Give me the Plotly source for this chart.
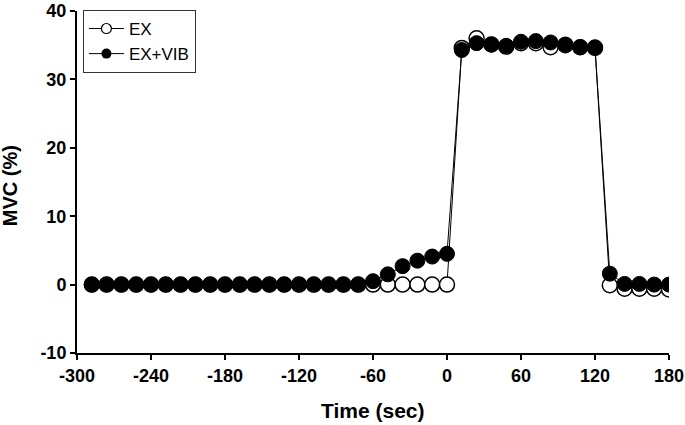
import plotly.graph_objects as go

time_sec = [-288, -276, -264, -252, -240, -228, -216, -204, -192, -180,
            -168, -156, -144, -132, -120, -108, -96, -84, -72, -60,
            -48, -36, -24, -12, 0, 12, 24, 36, 48, 60,
            72, 84, 96, 108, 120, 132, 144, 156, 168, 180]

ex = [0, 0, 0, 0, 0, 0, 0, 0, 0, 0,
      0, 0, 0, 0, 0, 0, 0, 0, 0, 0,
      0, 0, 0, 0, 0, 34.6, 36.0, 35.1, 34.8, 35.3,
      35.3, 34.7, 35.0, 34.7, 34.6, -0.1, -0.6, -0.6, -0.6, -0.7]

ex_vib = [0, 0, 0, 0, 0, 0, 0, 0, 0, 0,
          0, 0, 0, 0, 0, 0, 0, 0, 0, 0.5,
          1.5, 2.7, 3.5, 4.1, 4.5, 34.3, 35.3, 35.1, 34.9, 35.5,
          35.6, 35.4, 35.1, 34.7, 34.7, 1.6, 0.1, 0.1, 0.0, 0.0]

x_ticks = [-300, -240, -180, -120, -60, 0, 60, 120, 180]
y_ticks = [-10, 0, 10, 20, 30, 40]

FONT = "Arial, Liberation Sans, Helvetica, sans-serif"

fig = go.Figure()
fig.add_trace(go.Scatter(
    x=time_sec, y=ex, mode="lines+markers", name="EX", showlegend=False,
    line=dict(color="black", width=1),
    marker=dict(symbol="circle", size=15, color="white",
                line=dict(color="black", width=1.5)),
))
fig.add_trace(go.Scatter(
    x=time_sec, y=ex_vib, mode="lines+markers", name="EX+VIB", showlegend=False,
    line=dict(color="black", width=1),
    marker=dict(symbol="circle", size=15, color="black",
                line=dict(color="black", width=1)),
))
# legend entries with smaller symbols
fig.add_trace(go.Scatter(
    x=[None], y=[None], mode="lines+markers", name="EX",
    line=dict(color="black", width=1),
    marker=dict(symbol="circle", size=10, color="white",
                line=dict(color="black", width=1.2)),
))
fig.add_trace(go.Scatter(
    x=[None], y=[None], mode="lines+markers", name="EX+VIB",
    line=dict(color="black", width=1),
    marker=dict(symbol="circle", size=10, color="black"),
))

fig.update_layout(
    template="none",
    width=685, height=425,
    margin=dict(l=77, r=16, t=11, b=72, autoexpand=False),
    paper_bgcolor="white", plot_bgcolor="white",
    font=dict(family=FONT, color="black"),
    showlegend=True,
    legend=dict(
        x=0.01, y=1.003, xanchor="left", yanchor="top",
        bgcolor="white", bordercolor="#333333", borderwidth=1,
        font=dict(size=17, family=FONT, color="black"),
        tracegroupgap=0, itemwidth=35,
    ),
    xaxis=dict(
        range=[-300, 180], tickvals=x_ticks,
        ticktext=["<b>%d</b>" % v for v in x_ticks],
        showline=True, linecolor="black", linewidth=2, automargin=False,
        ticks="outside", ticklen=5, tickwidth=2, tickcolor="black",
        showgrid=False, zeroline=False,
        tickfont=dict(size=18, family=FONT, color="black"),
    ),
    yaxis=dict(
        range=[-10, 40], tickvals=y_ticks,
        ticktext=["<b>%d</b>" % v for v in y_ticks],
        showline=True, linecolor="black", linewidth=2, automargin=False,
        ticks="outside", ticklen=5, tickwidth=2, tickcolor="black",
        showgrid=False, zeroline=False,
        tickfont=dict(size=18, family=FONT, color="black"),
    ),
    annotations=[
        dict(text="<b>Time (sec)</b>", xref="paper", yref="paper",
             x=0.5, y=-0.167, xanchor="center", yanchor="middle",
             showarrow=False, font=dict(size=21, family=FONT)),
        dict(text="<b>MVC (%)</b>", xref="paper", yref="paper",
             x=-0.113, y=0.488, xanchor="center", yanchor="middle",
             textangle=-90, showarrow=False, font=dict(size=20, family=FONT)),
    ],
)

fig.write_html("out.html",
               config={"displayModeBar": False},
               post_script="document.body.style.margin='0px';")
